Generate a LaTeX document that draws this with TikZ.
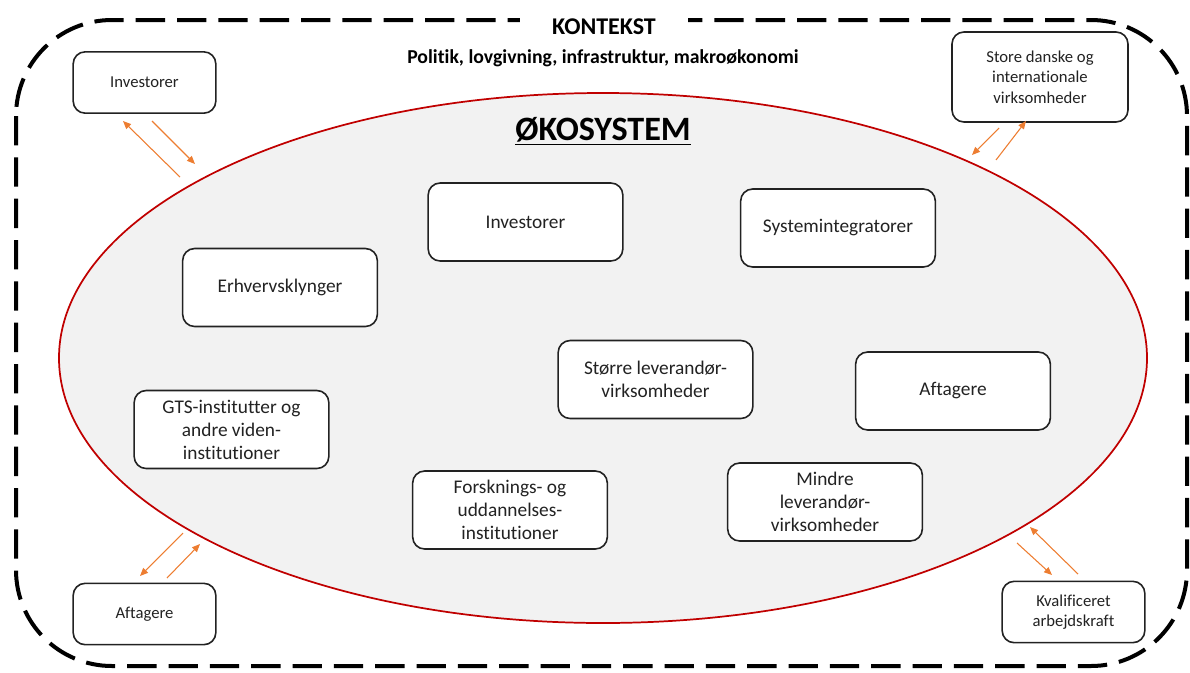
\documentclass[tikz,border=0pt]{standalone}
\usepackage{fontspec}
\setmainfont{Carlito}[Ligatures=NoCommon]
\usetikzlibrary{arrows.meta}
\definecolor{txt}{HTML}{222222}
\definecolor{ecofill}{HTML}{F2F2F2}
\definecolor{ecored}{HTML}{C00000}
\definecolor{arr}{HTML}{ED7D31}
\tikzset{
  smallbox/.style={draw=txt, line width=1.2pt, rounded corners=9pt, fill=white, text=txt,
    minimum width=107pt, minimum height=46pt, align=center, inner sep=2pt,
    font=\fontsize{12.5}{15.4}\selectfont},
  ecobox/.style={draw=txt, line width=1.2pt, rounded corners=9pt, fill=white, text=txt,
    minimum width=146pt, minimum height=58.5pt, align=center, inner sep=2pt,
    font=\fontsize{14.5}{17.3}\selectfont},
  flow/.style={draw=arr, line width=0.8pt, -{Triangle[length=6pt,width=5pt]}},
}
\begin{document}
\begin{tikzpicture}[x=0.75pt,y=-0.75pt]
\useasboundingbox (0,0) rectangle (1190,672);
% context frame
\draw[black, line width=3pt, dash pattern=on 22pt off 9pt, rounded corners=72pt]
  (16,20) rectangle (1187,666);
\node[fill=white, inner xsep=24pt, inner ysep=1pt, text=black,
  font=\bfseries\fontsize{18}{21}\selectfont] (kontekst) at (604,27) {KONTEKST};
\node[text=black, font=\bfseries\fontsize{14.8}{17}\selectfont] (politik) at (603,58)
  {Politik, lovgivning, infrastruktur, makroøkonomi};
% ecosystem
\draw[ecored, fill=ecofill, line width=1.3pt] (603,358) ellipse [x radius=544, y radius=265];
\node[text=black, font=\bfseries\fontsize{25.6}{30}\selectfont, inner sep=0pt] (oko) at (603,131)
  {\underline{ØKOSYSTEM}};
% inner boxes
\node[ecobox] (inv) at (525.5,222) {Investorer};
\node[ecobox] (sys) at (838,228) {Systemintegratorer};
\node[ecobox] (erh) at (280,287.5) {Erhvervsklynger};
\node[ecobox] (gts) at (231.5,429.5) {GTS-institutter og\\andre viden-\\institutioner};
\node[ecobox] (fors) at (510,510) {Forsknings- og\\uddannelses-\\institutioner};
\node[ecobox] (stor) at (655.5,379.5) {Større leverandør-\\virksomheder};
\node[ecobox] (aft) at (953,391) {Aftagere};
\node[ecobox] (mind) at (825,502) {Mindre\\leverandør-\\virksomheder};
% outer boxes
\node[smallbox] (oinv) at (144.5,82.5) {Investorer};
\node[smallbox, minimum width=132pt, minimum height=67.5pt] (ostore) at (1040,77)
  {Store danske og\\internationale\\virksomheder};
\node[smallbox] (oaft) at (144.5,614) {Aftagere};
\node[smallbox] (okval) at (1073.5,612) {Kvalificeret\\arbejdskraft};
% arrow end points
\coordinate (a1s) at (180,177); \coordinate (a1e) at (123,121);
\coordinate (a2s) at (152,121); \coordinate (a2e) at (195,164);
\coordinate (b1s) at (999,128); \coordinate (b1e) at (972,155);
\coordinate (b2s) at (996,160); \coordinate (b2e) at (1026,121);
\coordinate (c1s) at (183,533); \coordinate (c1e) at (140,576);
\coordinate (c2s) at (167,578); \coordinate (c2e) at (200,544);
\coordinate (d1s) at (1017,543); \coordinate (d1e) at (1052,575);
\coordinate (d2s) at (1078,574); \coordinate (d2e) at (1030,527);
\draw[flow] (a1s) -- (a1e);
\draw[flow] (a2s) -- (a2e);
\draw[flow] (b1s) -- (b1e);
\draw[flow] (b2s) -- (b2e);
\draw[flow] (c1s) -- (c1e);
\draw[flow] (c2s) -- (c2e);
\draw[flow] (d1s) -- (d1e);
\draw[flow] (d2s) -- (d2e);
\end{tikzpicture}
\end{document}
